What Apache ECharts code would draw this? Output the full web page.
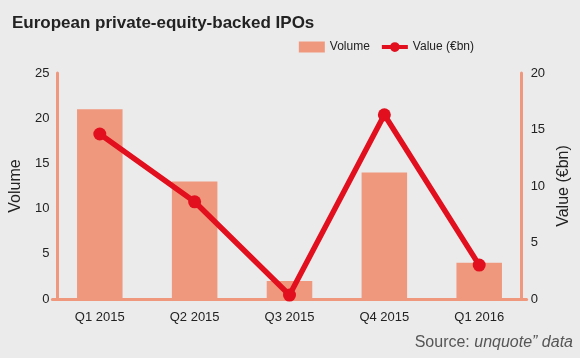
<!DOCTYPE html>
<html><head><meta charset="utf-8">
<script src="https://cdn.jsdelivr.net/npm/echarts@6/dist/echarts.min.js"></script>
<style>html,body{margin:0;padding:0;background:#ebebeb;}#c{width:580px;height:358px;}</style>
</head><body><div id="c"></div>
<script>
const categories = ['Q1 2015','Q2 2015','Q3 2015','Q4 2015','Q1 2016'];
const volume = [21, 13, 2, 14, 4];
const value = [14.6, 8.6, 0.35, 16.3, 3.0];
const FONT = '"Liberation Sans Narrow", "Liberation Sans", sans-serif';
const chart = echarts.init(document.getElementById('c'));
chart.setOption({
  backgroundColor: '#ebebeb',
  animation: false,
  textStyle: {fontFamily: FONT},
  title: {text: 'European private-equity-backed IPOs', left: 7, top: 10,
    textStyle: {fontFamily: FONT, fontWeight: 'bold', fontSize: 17, color: '#222'}},
  legend: {right: 101, top: 36, itemGap: 12, itemWidth: 26, itemHeight: 11,
    textStyle: {fontFamily: FONT, fontSize: 12, color: '#222'},
    data: [{name: 'Volume', icon: 'rect'},
      {name: 'Value (€bn)', icon: 'path://M0,3.5 L32,3.5 L32,8.5 L0,8.5 Z M16,0 A6,6 0 1 1 16,12 A6,6 0 1 1 16,0 Z'}]},
  grid: {left: 51, right: 51, top: 73, bottom: 59},
  xAxis: {type: 'category', data: categories,
    axisLine: {lineStyle: {color: '#f0987e', width: 3}},
    axisTick: {show: false},
    axisLabel: {color: '#222', fontSize: 13, margin: 12, fontFamily: FONT}},
  yAxis: [
    {type: 'value', min: 0, max: 25, interval: 5, offset: -5, name: 'Volume', nameLocation: 'middle', nameGap: 28,
      nameTextStyle: {fontSize: 16, color: '#222', fontFamily: FONT},
      axisLine: {show: true, lineStyle: {color: '#f0987e', width: 3}},
      axisTick: {show: false}, splitLine: {show: false},
      axisLabel: {color: '#222', fontSize: 13, margin: 8, fontFamily: FONT}},
    {type: 'value', min: 0, max: 20, interval: 5, offset: -5, name: 'Value (€bn)', nameLocation: 'middle', nameGap: 31,
      nameRotate: 90,
      nameTextStyle: {fontSize: 16, color: '#222', fontFamily: FONT},
      axisLine: {show: true, lineStyle: {color: '#f0987e', width: 3}},
      axisTick: {show: false}, splitLine: {show: false},
      axisLabel: {color: '#222', fontSize: 13, margin: 9, fontFamily: FONT}}
  ],
  series: [
    {name: 'Volume', type: 'bar', data: volume, barWidth: '48%', itemStyle: {color: '#f0987e'}},
    {name: 'Value (€bn)', type: 'line', yAxisIndex: 1, data: value, symbol: 'circle', symbolSize: 13,
      lineStyle: {color: '#e2101f', width: 5.5}, itemStyle: {color: '#e2101f'}}
  ],
  graphic: [{type: 'text', right: 7, top: 335,
    style: {text: '{n|Source: }{i|unquote” data}', fill: '#555',
      rich: {n: {fontFamily: FONT, fontSize: 16, fill: '#555'}, i: {fontFamily: FONT, fontSize: 16, fontStyle: 'italic', fill: '#555'}}}}]
});
</script></body></html>
